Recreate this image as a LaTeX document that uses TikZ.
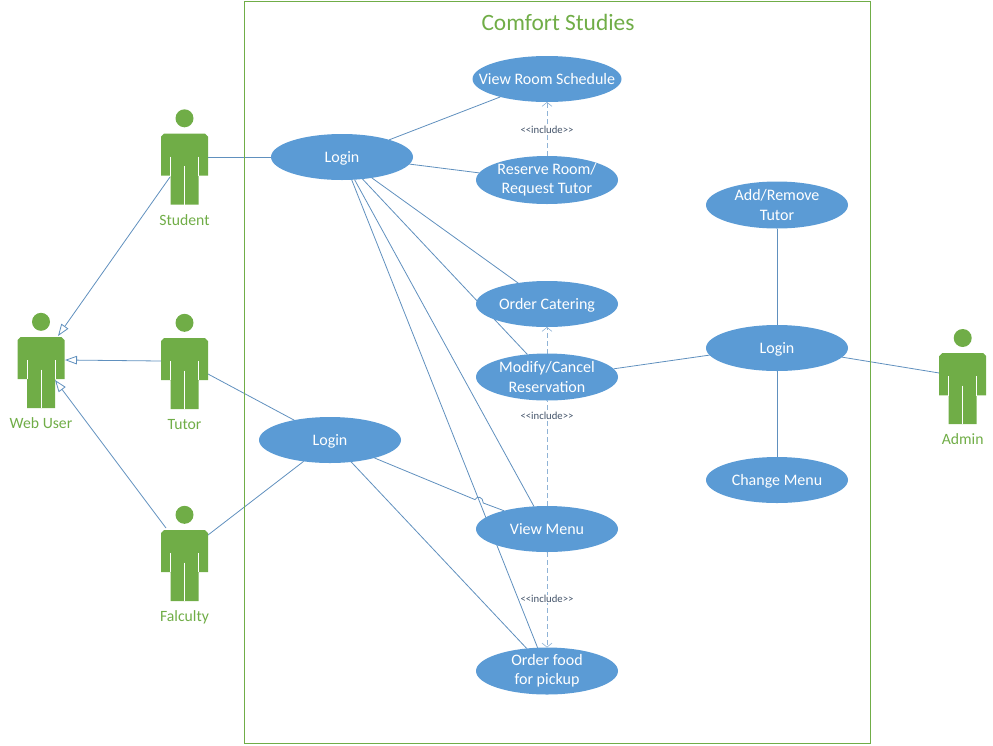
\documentclass[tikz,border=0pt]{standalone}
\usepackage{fontspec}
\setmainfont{Carlito}
\usetikzlibrary{shapes.geometric,arrows.meta,backgrounds}
\definecolor{ugreen}{HTML}{70AD47}
\definecolor{ublue}{HTML}{5B9BD5}
\definecolor{uline}{HTML}{6090BE}
\definecolor{udash}{HTML}{8FB3D6}
\definecolor{ulabel}{HTML}{44546A}
\tikzset{
  usecase/.style={ellipse,fill=ublue,text=white,draw=none,inner xsep=-40pt,inner ysep=-20pt,outer sep=0pt,
    minimum width=142pt,minimum height=46pt,align=center,font=\fontsize{16}{19.2}\selectfont},
  oneline/.style={text height=10.5pt,text depth=0.5pt},
  actorbox/.style={rectangle,draw=none,inner sep=0pt,outer sep=0pt,minimum width=47pt,minimum height=71pt},
  actorname/.style={text=ugreen,inner sep=0pt,text height=10pt,text depth=0pt,font=\fontsize{15.7}{18}\selectfont},
  assoc/.style={draw=uline,line width=0.8pt},
  gener/.style={draw=uline,line width=0.8pt,-{Triangle[open,fill=white,length=12pt,width=8.5pt]}},
  incl/.style={draw=udash,line width=0.9pt,dash pattern=on 5pt off 3pt},
  inclarrow/.style={incl,-{Straight Barb[length=4pt,width=10pt,line width=0.6pt]}},
  incllabel/.style={text=ulabel,fill=white,inner sep=0.5pt,font=\fontsize{10.7}{12}\selectfont},
  actorfig/.pic={
    \fill[ugreen] (0,-50.7) circle[radius=9pt];
    \fill[ugreen] (-20.5,-35.5) -- (20.5,-35.5) -- (23.5,-32.5) -- (23.5,6.7) -- (14,6.7) -- (14,35.5)
      -- (-14,35.5) -- (-14,6.7) -- (-23.5,6.7) -- (-23.5,-32.5) -- cycle;
    \draw[white,line width=0.9pt] (-14,-12.3) -- (-14,6.9) (14,-12.3) -- (14,6.9) (0,-3) -- (0,35.7);
  }
}
\begin{document}
\begin{tikzpicture}[x=1pt,y=-1pt]
\useasboundingbox (0,0) rectangle (993,745);
% frame and title
\node[draw=ugreen,line width=1pt,inner sep=0pt,outer sep=0pt,minimum width=626pt,minimum height=742.5pt] (frame) at (557.5,372.25) {};
\node[text=ugreen,inner sep=0pt,font=\fontsize{23.4}{27}\selectfont] (title) at (558,22) {Comfort Studies};
% actors
\node[actorbox] (student) at (184.5,169) {};
\node[actorbox] (webuser) at (41,372.5) {};
\node[actorbox] (tutor) at (184.5,373.5) {};
\node[actorbox] (faculty) at (184.5,565.5) {};
\node[actorbox] (admin) at (962.7,388.7) {};
\pic at (student.center) {actorfig};
\pic at (webuser.center) {actorfig};
\pic at (tutor.center) {actorfig};
\pic at (faculty.center) {actorfig};
\pic at (admin.center) {actorfig};
\node[actorname] (lstudent) at (184.5,220) {Student};
\node[actorname] (lwebuser) at (41,423) {Web User};
\node[actorname] (ltutor) at (184.5,424) {Tutor};
\node[actorname] (lfaculty) at (184.5,616) {Falculty};
\node[actorname] (ladmin) at (962.7,439) {Admin};
% use cases
\node[usecase,oneline] (login1) at (342,157) {Login};
\node[usecase,oneline] (login2) at (330,440) {Login};
\node[usecase,oneline] (login3) at (777,348) {Login};
\node[usecase,oneline,minimum width=149pt] (schedule) at (547,79) {View Room Schedule};
\node[usecase,minimum height=48pt] (reserve) at (547,180) {\raisebox{-1.5pt}{Reserve Room/}\\\raisebox{-1pt}{Request Tutor}};
\node[usecase,oneline] (catering) at (547,304) {Order Catering};
\node[usecase,minimum height=47pt] (modify) at (547,377) {Modify/Cancel\\Reservation};
\node[usecase,oneline] (menu) at (547,529) {View Menu};
\node[usecase,minimum height=47pt] (food) at (547,671) {\raisebox{-1pt}{Order food}\\\raisebox{-1pt}{for pickup}};
\node[usecase,minimum height=47pt] (addtutor) at (777,205) {Add/Remove\\Tutor};
\node[usecase,oneline] (change) at (777,480) {Change Menu};
% include labels
\node[incllabel] (inc1) at (547,129.5) {<{}<include>{}>};
\node[incllabel] (inc2) at (547,416) {<{}<include>{}>};
\node[incllabel] (inc3) at (547,599) {<{}<include>{}>};
\coordinate (hopa) at (475,499.6);
\coordinate (hopb) at (483.3,503);
\begin{scope}[on background layer]
  % generalisations
  \draw[gener] ([shift={(-14.5,8)}]student.center) -- ([shift={(17,-36.5)}]webuser.center);
  \draw[gener] ([shift={(-23.5,-12.5)}]tutor.center) -- ([shift={(24,-12.5)}]webuser.center);
  \draw[gener] ([shift={(-18.5,-37.5)}]faculty.center) -- ([shift={(14,7.5)}]webuser.center);
  % actor associations
  \draw[assoc] ([shift={(23.5,-12)}]student.center) -- (login1.west);
  \draw[assoc] ([shift={(23.5,0.5)}]tutor.center) -- (login2.151.6);
  \draw[assoc] ([shift={(23.5,-30.5)}]faculty.center) -- (login2.219.4);
  \draw[assoc] (login3.-8.6) -- ([shift={(-23.5,-15.7)}]admin.center);
  % first login
  \draw[assoc] (login1.20.6) -- (schedule.201.6);
  \draw[assoc] (login1.-6.5) -- (reserve.174);
  \draw[assoc] (login1.-35.4) -- (catering.144.6);
  \draw[assoc] (login1.-47.6) -- (modify.131.2);
  \draw[assoc] (login1.-61.6) -- (menu.120.3);
  \draw[assoc] (login1.-67.4) -- (food.112.6);
  % second login
  \draw[assoc] (login2.-22.9) -- (hopa) .. controls (477,495.5) and (483,496.5) .. (hopb) -- (menu.157.8);
  \draw[assoc] (login2.-46.3) -- (food.132.5);
  % admin login
  \draw[assoc] (modify.7.3) -- (login3.186.7);
  \draw[assoc] (login3.north) -- (addtutor.south);
  \draw[assoc] (login3.south) -- (change.north);
  % includes
  \draw[inclarrow] (reserve.north) -- (schedule.south);
  \draw[inclarrow] (modify.north) -- (catering.south);
  \draw[incl] (menu.north) -- (modify.south);
  \draw[inclarrow] (menu.south) -- (food.north);
\end{scope}
\end{tikzpicture}
\end{document}
